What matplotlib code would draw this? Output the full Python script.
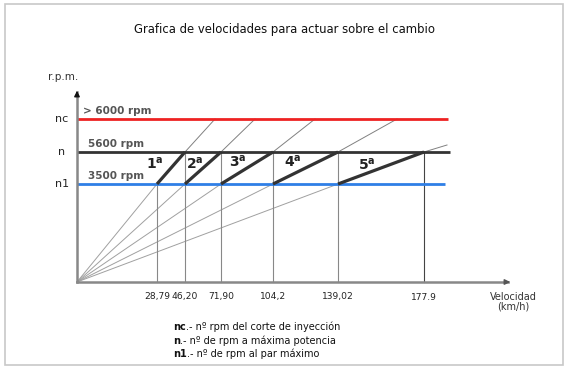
import matplotlib
matplotlib.use('Agg')
import matplotlib.pyplot as plt
from matplotlib.patches import Rectangle

# schematic chart: positions are in drawing units (origin of the axes = 0,0)
speed_labels = ['28,79', '46,20', '71,90', '104,2', '139,02', '177.9']
speed_pos = [80, 108, 144, 196, 261, 347]

level_names = ['n1', 'n', 'nc']
level_pos = [98, 130, 163]
level_texts = ['3500 rpm', '5600 rpm', '> 6000 rpm']
level_colors = ['#2f7fe6', '#333333', '#ee2222']
level_end = [368, 373, 371]

gears = ['1', '2', '3', '4', '5']
gear_lo = [80, 108, 144, 196, 261]     # speed where the gear reaches n1
gear_hi = [108, 144, 196, 261, 347]    # speed where the gear reaches n
ray_end_x = [138, 178, 238, 320, 370]
ray_end_y = [163, 163, 163, 163, 137]
gear_label_x = [78, 118, 161, 216, 290]
gear_label_y = [118, 118, 120, 120, 117]

legend_keys = ['nc', 'n', 'n1']
legend_rest = ['.- nº rpm del corte de inyección',
               '.- nº de rpm a máxima potencia',
               '.- nº de rpm al par máximo']

fig = plt.figure(figsize=(5.69, 3.71), dpi=100)
ax = fig.add_axes([0, 0, 1, 1])
ax.set_xlim(-77, 569 - 77)
ax.set_ylim(282 - 371, 282)
ax.axis('off')

fig.patches.append(Rectangle((5 / 569, 1 - 365 / 371), 558 / 569, 361 / 371,
                             transform=fig.transFigure, fill=False,
                             edgecolor='#c8c8c8', lw=1.2))

ax.text(207, 252, 'Grafica de velocidades para actuar sobre el cambio',
        ha='center', va='center', fontsize=8.4, color='#111')

# rays from origin
for i in range(len(gears)):
    ax.plot([0, gear_lo[i]], [0, level_pos[0]], color='#a0a0a0', lw=0.7, zorder=1)
    ax.plot([gear_hi[i], ray_end_x[i]], [level_pos[1], ray_end_y[i]],
            color='#808080', lw=0.7, zorder=1)

# vertical speed lines
for i, x in enumerate(speed_pos):
    top = level_pos[0] if i == 0 else level_pos[1]
    col = '#444' if i == len(speed_pos) - 1 else '#888'
    ax.plot([x, x], [0, top], color=col, lw=0.8, zorder=1)
    ax.text(x, -15, speed_labels[i], ha='center', va='center',
            fontsize=6.6, color='#222')

# rpm levels
for i in range(3):
    ax.plot([0, level_end[i]], [level_pos[i], level_pos[i]],
            color=level_colors[i], lw=2.0, zorder=2, solid_capstyle='butt')
    ax.text(-15, level_pos[i], level_names[i], ha='center', va='center',
            fontsize=8, color='#222')
    ax.text(6 if i == 2 else 11, level_pos[i] + 8, level_texts[i],
            ha='left', va='center', fontsize=7.5, fontweight='bold',
            color='#555')

# gear segments
for i in range(len(gears)):
    ax.plot([gear_lo[i], gear_hi[i]], [level_pos[0], level_pos[1]],
            color='#333', lw=2.3, zorder=3, solid_capstyle='butt')
    ax.text(gear_label_x[i], gear_label_y[i],
            r'$\mathbf{%s^{a}}$' % gears[i], ha='center',
            va='center', fontsize=10, color='#222')

# axes with arrows
ax.plot([0, 0], [0, 190], color='#888', lw=1.8, zorder=4)
ax.plot([0, 431], [0, 0], color='#888', lw=1.8, zorder=4)
ax.annotate('', xy=(0, 194), xytext=(0, 184),
            arrowprops=dict(arrowstyle='-|>', color='#111', lw=1,
                            mutation_scale=8), zorder=5)
ax.annotate('', xy=(436, 0), xytext=(426, 0),
            arrowprops=dict(arrowstyle='-|>', color='#555', lw=1,
                            mutation_scale=8), zorder=5)
ax.text(-14, 205, 'r.p.m.', ha='center', va='center', fontsize=7.5,
        color='#333')
ax.text(436, -20, 'Velocidad\n(km/h)', ha='center', va='center',
        fontsize=7, color='#333', linespacing=0.95)

# legend text
for i, key in enumerate(legend_keys):
    t = ax.text(96, -45 - 13.5 * i, key, ha='left', va='center',
                fontsize=7, fontweight='bold', color='#111')
    ax.annotate(legend_rest[i], xy=(1, 0.5), xycoords=t, ha='left',
                va='center', fontsize=7, color='#111')

fig.savefig('out.png', dpi=100)
